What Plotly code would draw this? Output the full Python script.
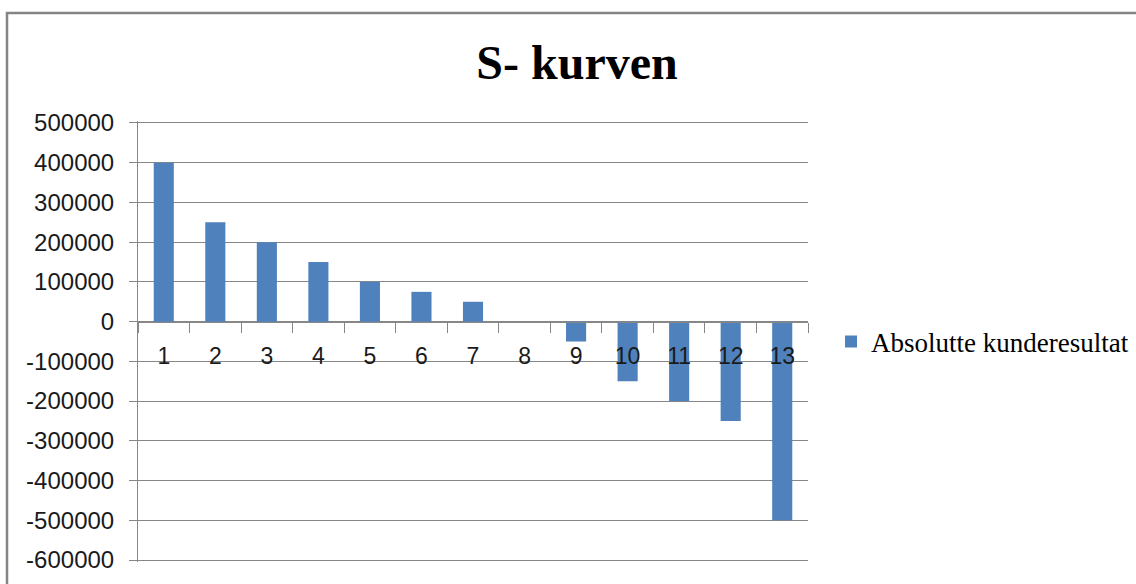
import plotly.graph_objects as go

categories = ["1", "2", "3", "4", "5", "6", "7", "8", "9", "10", "11", "12", "13"]
values = [400000, 250000, 200000, 150000, 100000, 75000, 50000, 0,
          -50000, -150000, -200000, -250000, -500000]
y_tick_vals = [500000, 400000, 300000, 200000, 100000, 0, -100000, -200000,
               -300000, -400000, -500000, -600000]
y_tick_text = ["500000", "400000", "300000", "200000", "100000", "0", "-100000",
               "-200000", "-300000", "-400000", "-500000", "-600000"]
series_name = "Absolutte kunderesultat"
title_text = "S- kurven"

W, H = 1136, 584
y_min, y_max = -600000, 500000
eps = 5000
px_per = (560 - 123) / (y_max - y_min)
pad_px = eps * px_per
L, R = 138, 1136 - 808
T = 123 - pad_px
B = 584 - 560 - pad_px
grid = "#878787"
PW, PH = W - L - R, H - T - B

fig = go.Figure()
fig.add_trace(go.Bar(
    x=categories, y=values, name=series_name,
    marker=dict(color="#4F81BD", line=dict(width=0)),
    showlegend=True,
))

zero_pos = (0 - (y_min - eps)) / ((y_max + eps) - (y_min - eps))

fig.update_layout(
    width=W, height=H,
    margin=dict(l=L, r=R, t=T, b=B, pad=0, autoexpand=False),
    paper_bgcolor="white", plot_bgcolor="white",
    bargap=0.61,
    showlegend=True,
    title=dict(text=title_text, x=577 / W, xanchor="center", y=1 - 62 / H, yanchor="middle",
               font=dict(family="Liberation Serif", size=48, color="black", weight="bold")),
    legend=dict(x=(831 - L) / PW, y=(H - B - 342) / PH,
                xanchor="left", yanchor="middle",
                font=dict(family="Liberation Serif", size=27, color="black"),
                itemsizing="constant", itemwidth=30, bgcolor="rgba(0,0,0,0)"),
    xaxis=dict(type="category", tickson="boundaries", ticks="outside", ticklen=10,
               tickcolor=grid, tickwidth=1, showline=True, linecolor=grid, linewidth=1,
               showgrid=False, anchor="free", position=zero_pos,
               ticklabelstandoff=14,
               tickfont=dict(family="Liberation Sans", size=23, color="#1a1a1a"),
               range=[-0.5, 12.5]),
    yaxis=dict(range=[y_min - eps, y_max + eps], tickmode="array", tickvals=y_tick_vals,
               ticktext=y_tick_text,
               ticks="outside", ticklen=8, tickcolor=grid, showline=True, linecolor=grid,
               linewidth=1, showgrid=True, gridcolor=grid, gridwidth=1, zeroline=False,
               ticklabelstandoff=10,
               tickfont=dict(family="Liberation Sans", size=24, color="#1a1a1a")),
    shapes=[dict(type="rect", xref="paper", yref="paper",
                 x0=(7 - L) / PW, x1=2.0,
                 y0=-1.0, y1=(H - B - 13) / PH,
                 line=dict(color="#858585", width=2.5), fillcolor="rgba(0,0,0,0)", layer="below")],
)

fig.write_html("out.html", config={"displayModeBar": False},
               post_script="document.body.style.margin='0';document.body.style.overflow='hidden';")
